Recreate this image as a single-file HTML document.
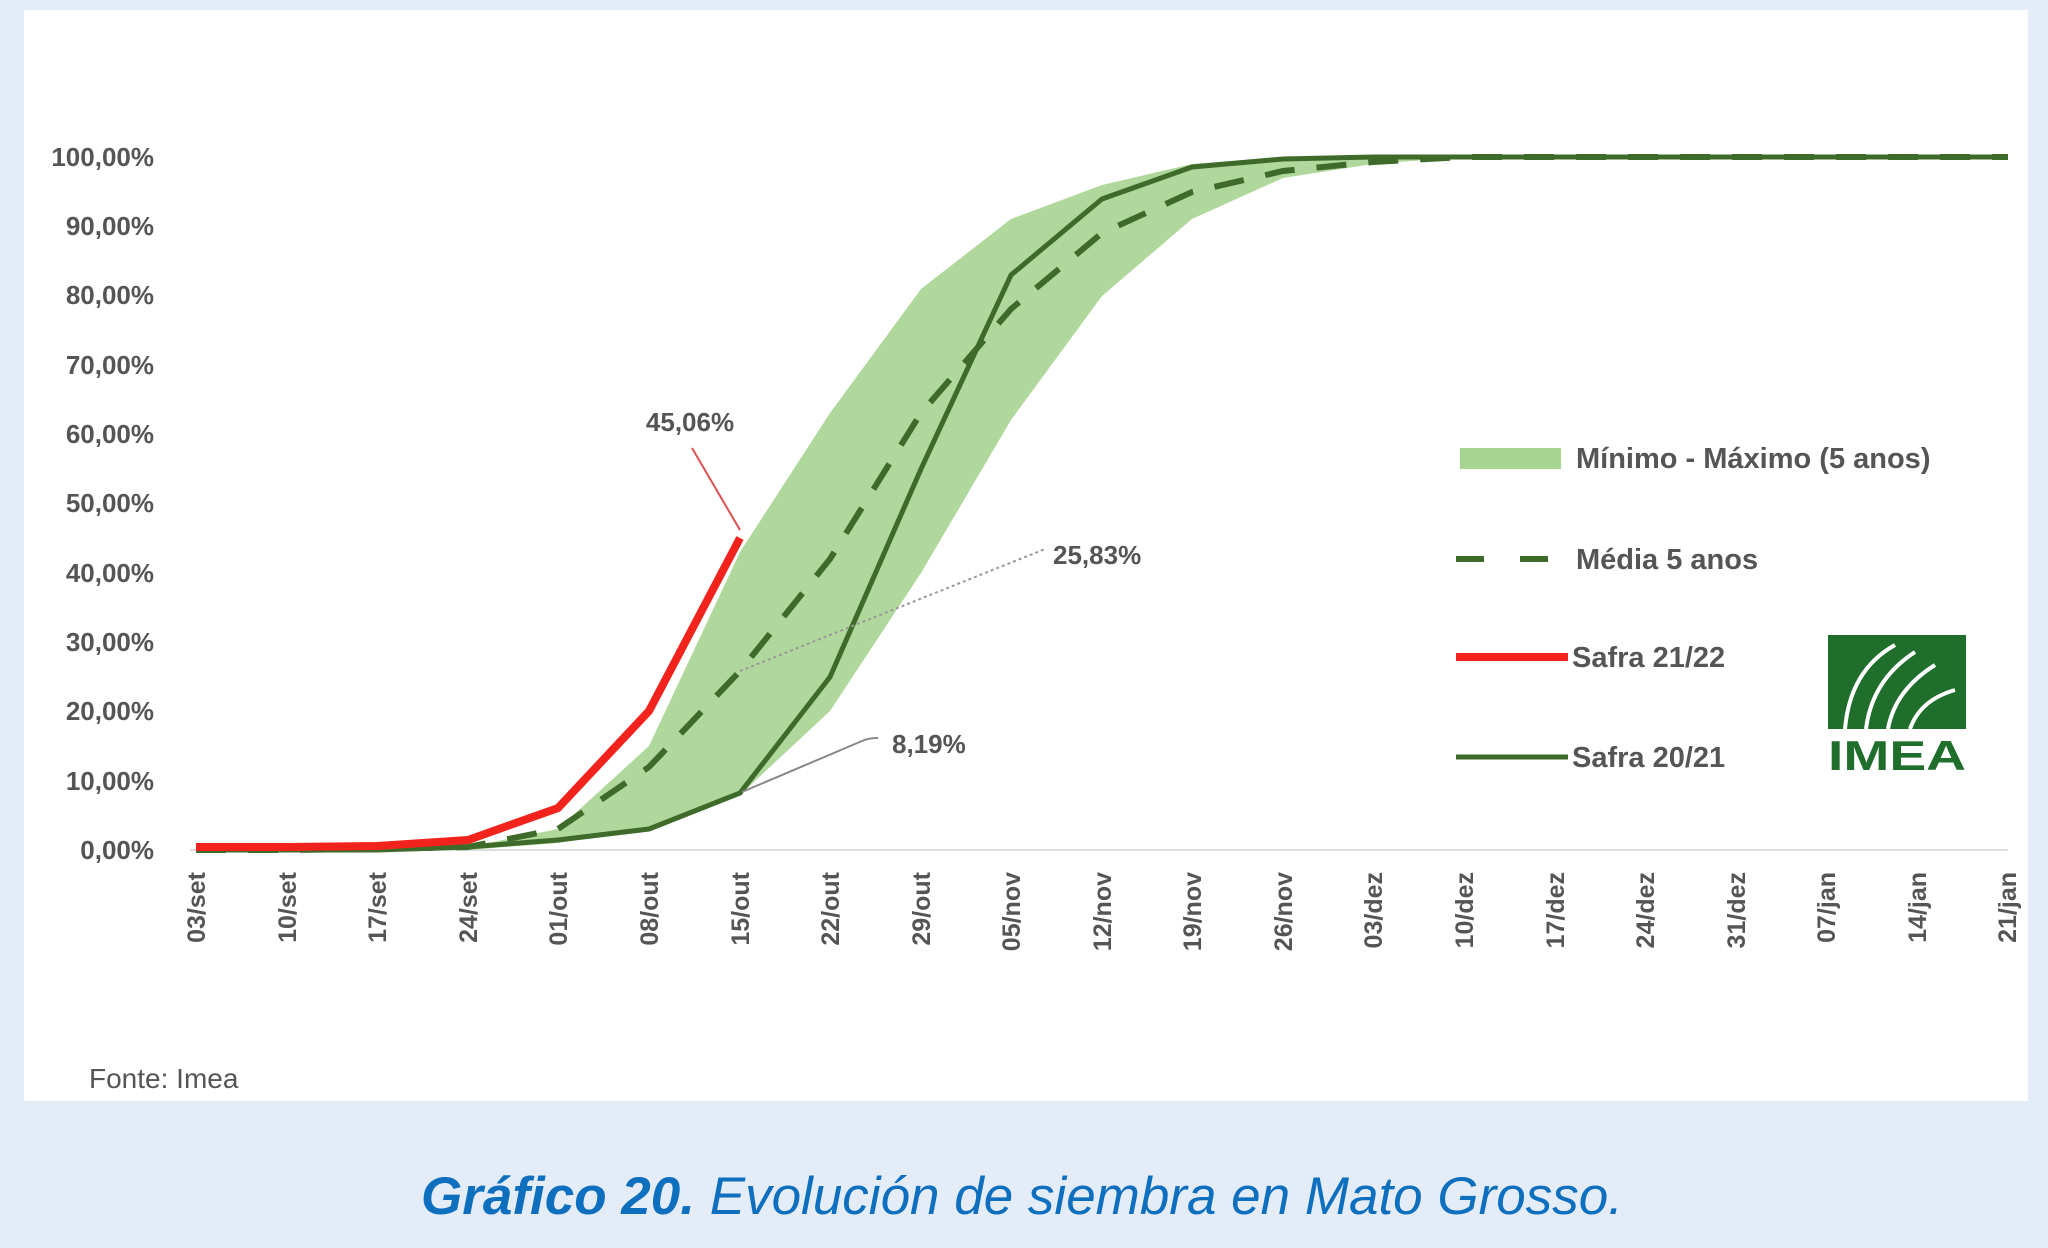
<!DOCTYPE html>
<html><head><meta charset="utf-8"><style>
body{margin:0;width:2048px;height:1248px;background:#e3ecf7;overflow:hidden}
svg{position:absolute;left:0;top:0}
</style></head><body>
<svg width="2048" height="1248" viewBox="0 0 2048 1248" font-family="Liberation Sans, sans-serif">
<rect x="24" y="10" width="2004" height="1091" fill="#fff"/>
<g font-size="26" fill="#555" text-anchor="end" font-weight="bold">
<text x="154" y="166">100,00%</text><text x="154" y="235">90,00%</text><text x="154" y="304">80,00%</text>
<text x="154" y="374">70,00%</text><text x="154" y="443">60,00%</text><text x="154" y="512">50,00%</text>
<text x="154" y="582">40,00%</text><text x="154" y="651">30,00%</text><text x="154" y="720">20,00%</text>
<text x="154" y="790">10,00%</text><text x="154" y="859">0,00%</text>
</g>
<line x1="190" y1="850" x2="2008" y2="850" stroke="#ddd" stroke-width="2"/>
<polygon fill="#a8d491" opacity="0.9" points="
196,850 287,850 377,849 468,847 558,829 649,746 740,552 830,413 921,289 1011,219 1102,185 1192,164 1283,157 2008,157
2008,157 1464,157 1373,164 1283,178 1192,219 1102,296 1011,420 921,573 830,711 740,795 649,829 558,843 468,850 196,850"/>
<polyline fill="none" stroke="#3f6b2a" stroke-width="6" stroke-dasharray="30,22" points="196,850 287,850 377,849 468,847 558,829 649,767 740,671 830,559 921,413 1011,309 1102,233 1192,192 1283,171 1373,162 1464,157 2008,157"/>
<polyline fill="none" stroke="#3f6b2a" stroke-width="5" points="196,850 287,850 377,850 468,847 558,840 649,829 740,793 830,677 921,469 1011,275 1102,199 1192,167 1283,159 1373,157 2008,157"/>
<polyline fill="none" stroke="#f2231c" stroke-width="8" points="196,847 287,847 377,846 468,840 558,808 649,711 740,538"/>
<line x1="692" y1="448" x2="740" y2="530" stroke="#e05050" stroke-width="2"/>
<text x="690" y="431" font-size="26" font-weight="bold" fill="#555" text-anchor="middle">45,06%</text>
<line x1="740" y1="671" x2="1045" y2="549" stroke="#999" stroke-width="2" stroke-dasharray="3,3"/>
<text x="1053" y="564" font-size="26" font-weight="bold" fill="#555">25,83%</text>
<path d="M742,792 L862,741 Q868,738 878,738" fill="none" stroke="#888" stroke-width="2"/>
<text x="892" y="753" font-size="26" font-weight="bold" fill="#555">8,19%</text>
<g font-size="25" fill="#555" font-weight="bold" text-anchor="end">
<text transform="translate(205,872) rotate(-90)">03/set</text>
<text transform="translate(296,872) rotate(-90)">10/set</text>
<text transform="translate(386,872) rotate(-90)">17/set</text>
<text transform="translate(477,872) rotate(-90)">24/set</text>
<text transform="translate(567,872) rotate(-90)">01/out</text>
<text transform="translate(658,872) rotate(-90)">08/out</text>
<text transform="translate(749,872) rotate(-90)">15/out</text>
<text transform="translate(839,872) rotate(-90)">22/out</text>
<text transform="translate(930,872) rotate(-90)">29/out</text>
<text transform="translate(1020,872) rotate(-90)">05/nov</text>
<text transform="translate(1111,872) rotate(-90)">12/nov</text>
<text transform="translate(1201,872) rotate(-90)">19/nov</text>
<text transform="translate(1292,872) rotate(-90)">26/nov</text>
<text transform="translate(1382,872) rotate(-90)">03/dez</text>
<text transform="translate(1473,872) rotate(-90)">10/dez</text>
<text transform="translate(1564,872) rotate(-90)">17/dez</text>
<text transform="translate(1654,872) rotate(-90)">24/dez</text>
<text transform="translate(1745,872) rotate(-90)">31/dez</text>
<text transform="translate(1835,872) rotate(-90)">07/jan</text>
<text transform="translate(1926,872) rotate(-90)">14/jan</text>
<text transform="translate(2016,872) rotate(-90)">21/jan</text>
</g>
<rect x="1460" y="448" width="101" height="21" fill="#a8d491"/>
<line x1="1456" y1="559" x2="1563" y2="559" stroke="#3f6b2a" stroke-width="6" stroke-dasharray="28,36"/>
<line x1="1456" y1="657" x2="1568" y2="657" stroke="#f2231c" stroke-width="8"/>
<line x1="1456" y1="757" x2="1568" y2="757" stroke="#3f6b2a" stroke-width="5"/>
<g font-size="29" font-weight="bold" fill="#555">
<text x="1576" y="468">Mínimo - Máximo (5 anos)</text>
<text x="1576" y="569">Média 5 anos</text>
<text x="1572" y="667">Safra 21/22</text>
<text x="1572" y="767">Safra 20/21</text>
</g>
<rect x="1828" y="635" width="138" height="94" fill="#1f6e2c"/>
<path d="M1845,729 Q1850,670 1895,645 M1866,729 Q1872,680 1915,652 M1888,729 Q1895,690 1935,665 M1910,729 Q1920,700 1955,690" stroke="#fff" stroke-width="4" fill="none"/>
<text x="1897" y="770" font-size="42" font-weight="bold" fill="#1f6e2c" text-anchor="middle" textLength="138" lengthAdjust="spacingAndGlyphs">IMEA</text>
<text x="89" y="1088" font-size="28" fill="#555">Fonte: Imea</text>
<text x="1022" y="1214" font-size="53" fill="#0e6fbf" text-anchor="middle" font-style="italic"><tspan font-weight="bold">Gráfico 20.</tspan> Evolución de siembra en Mato Grosso.</text>
</svg>
</body></html>
